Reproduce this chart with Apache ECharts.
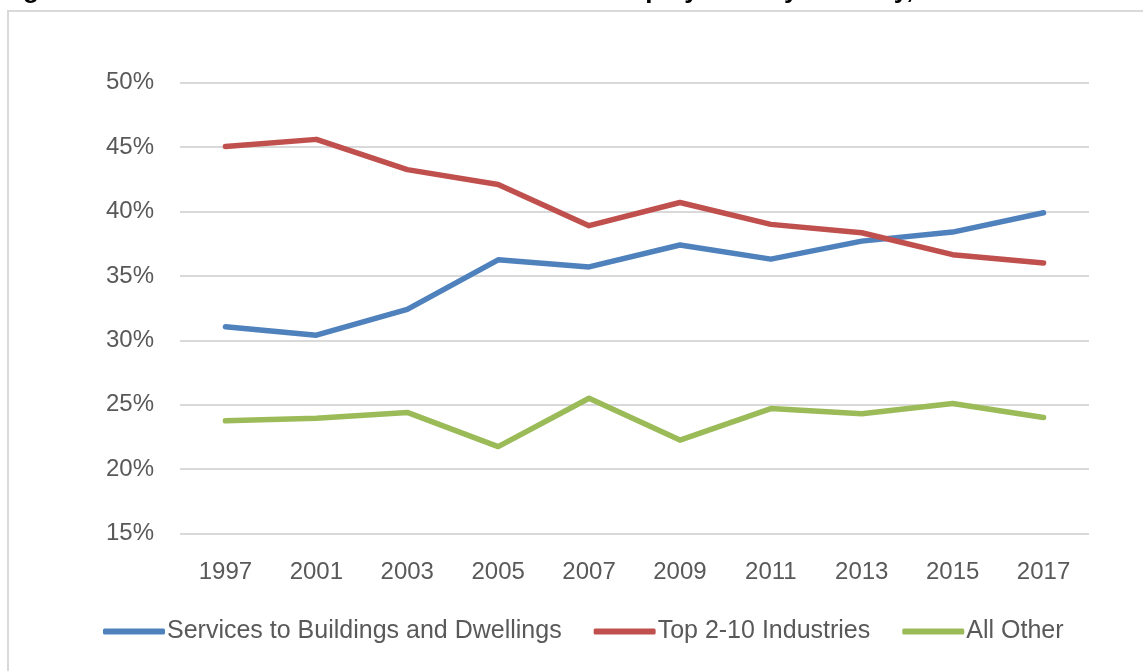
<!DOCTYPE html>
<html>
<head>
<meta charset="utf-8">
<title>Share of Employment by Industry</title>
<script src="https://cdn.jsdelivr.net/npm/echarts@6/dist/echarts.min.js"></script>
<style>
    html, body { margin: 0; padding: 0; background: #fff; }
    #chart { width: 1143px; height: 671px; }
</style>
</head>
<body>
<div id="chart"></div>
<script>
const years = ['1997', '2001', '2003', '2005', '2007', '2009', '2011', '2013', '2015', '2017']
const buildingServices = [31.05, 30.4, 32.4, 36.25, 35.7, 37.4, 36.3, 37.7, 38.4, 39.9]
const top2to10 = [45.05, 45.6, 43.25, 42.1, 38.9, 40.7, 39.0, 38.35, 36.65, 36.0]
const allOther = [23.75, 23.95, 24.4, 21.75, 25.5, 22.25, 24.7, 24.3, 25.1, 24.0]

const textColor = '#595959'
const lineColor = '#d9d9d9'
const font = 'Liberation Sans'

const myChart = echarts.init(document.getElementById('chart'))

function lineSeries(name, data, color) {
    return {
        name: name,
        type: 'line',
        data: data,
        symbol: 'none',
        lineStyle: { width: 5.5, color: color, cap: 'round', join: 'round' },
        itemStyle: { color: color }
    }
}

const option = {
    animation: false,
    title: {
        text: 'Figure 1: Share of Janitors and Cleaners in Total Employment by Industry, 1997-2017',
        left: -5,
        top: -27,
        textStyle: { fontFamily: font, fontSize: 26, fontWeight: 'bold', color: '#000' }
    },
    graphic: [
        {
            type: 'rect',
            shape: { x: 8, y: 11, width: 1150, height: 700 },
            style: { fill: 'none', stroke: lineColor, lineWidth: 2 },
            silent: true
        }
    ],
    grid: {
        left: 180,
        right: 54,
        top: 82.7,
        bottom: 137.5
    },
    legend: {
        left: 98,
        top: 614,
        itemWidth: 62,
        itemHeight: 6,
        itemGap: 32,
        icon: 'roundRect',
        textStyle: { fontFamily: font, fontSize: 25, color: textColor, padding: [0, 0, 0, -3] },
        data: ['Services to Buildings and Dwellings', 'Top 2-10 Industries', 'All Other']
    },
    xAxis: {
        type: 'category',
        data: years,
        boundaryGap: true,
        axisLine: { show: false },
        axisTick: { show: false },
        axisLabel: { fontFamily: font, fontSize: 24, color: textColor, margin: 27 }
    },
    yAxis: {
        type: 'value',
        min: 15,
        max: 50,
        interval: 5,
        axisLine: { show: false },
        axisTick: { show: false },
        axisLabel: {
            fontFamily: font, fontSize: 24, color: textColor, margin: 26,
            formatter: v => v + '%'
        },
        splitLine: { lineStyle: { color: lineColor, width: 2 } }
    },
    series: [
        lineSeries('Services to Buildings and Dwellings', buildingServices, '#4f81bd'),
        lineSeries('Top 2-10 Industries', top2to10, '#c0504d'),
        lineSeries('All Other', allOther, '#9bbb59')
    ]
}

myChart.setOption(option)

window.addEventListener('resize', () => myChart.resize())
</script>
</body>
</html>
